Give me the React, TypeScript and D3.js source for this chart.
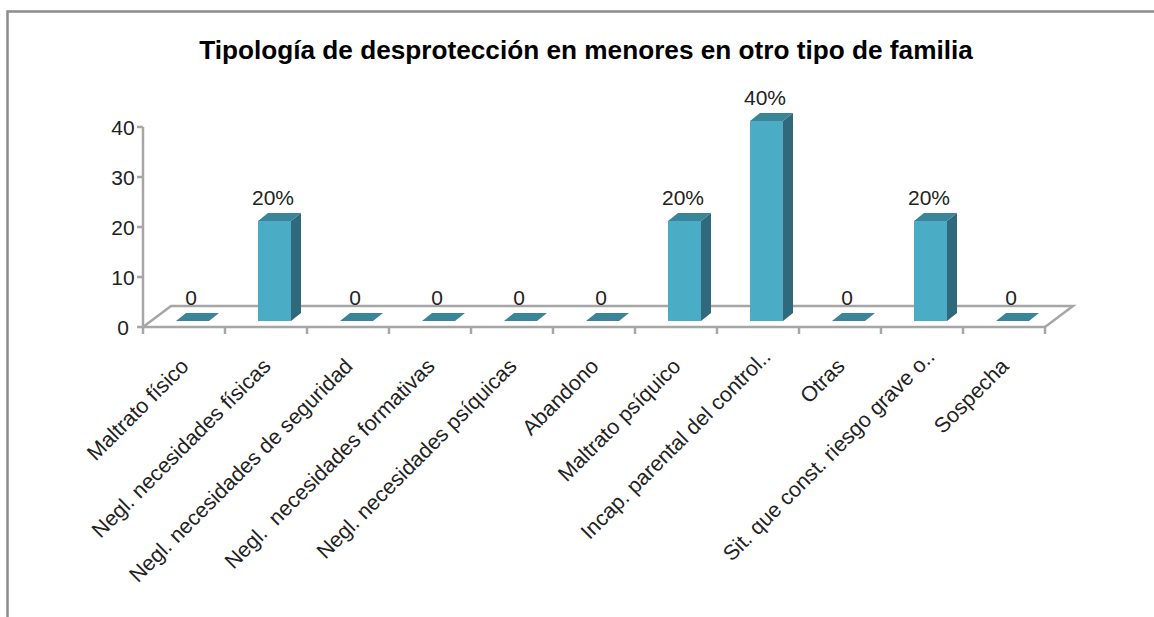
import React from "react";
import * as d3 from "d3";

const title = "Tipología de desprotección en menores en otro tipo de familia";
const categories = [
  "Maltrato físico",
  "Negl. necesidades físicas",
  "Negl. necesidades de seguridad",
  "Negl.  necesidades formativas",
  "Negl. necesidades psíquicas",
  "Abandono",
  "Maltrato psíquico",
  "Incap. parental del control..",
  "Otras",
  "Sit. que const. riesgo grave o..",
  "Sospecha",
];
const values = [0, 20, 0, 0, 0, 0, 20, 40, 0, 20, 0];
const valueLabels = ["0", "20%", "0", "0", "0", "0", "20%", "40%", "0", "20%", "0"];
const yTicks = [0, 10, 20, 30, 40];

const FONT = "'Liberation Sans', Arial, sans-serif";
const AXIS = "#a6a6a6";

const x = d3.scaleBand<number>().domain(d3.range(categories.length)).range([143, 1045]);
const y = d3.scaleLinear().domain([0, 40]).range([327, 127]);
const DX = 28;
const DY = 21;
const barLift = 6;
const barInset = 33;
const barW = 33;
const depthX = 10;
const depthY = 8;

export default function App() {
  const pts = (p: number[][]) => p.map((q) => q.join(",")).join(" ");
  return (
    <svg
      width={1154}
      height={617}
      style={{ position: "absolute", left: 0, top: 0, background: "#fff" }}
      fontFamily={FONT}
    >
      <path d="M7.5 617V11.5H1154" fill="none" stroke="#8c8c8c" strokeWidth={2.5} />
      <text x={586} y={59} textAnchor="middle" fontSize={26.2} fontWeight={700} fill="#000">
        {title}
      </text>

      <g fill="none" stroke={AXIS} strokeWidth={2.5}>
        <path d={`M143 ${y(40)}V327H1045`} />
        <path d={`M143 327L${143 + DX} ${327 - DY}H${1045 + DX}L1045 327`} />
        {yTicks.map((t) => (
          <path key={t} d={`M137 ${y(t)}H143`} />
        ))}
        {d3.range(categories.length + 1).map((i) => {
          const tx = 143 + i * x.step();
          return <path key={i} d={`M${tx} 327V334`} />;
        })}
      </g>

      {yTicks.map((t) => (
        <text key={t} x={123} y={y(t) + 8} textAnchor="middle" fontSize={21} fill="#222">
          {t}
        </text>
      ))}

      {values.map((v, i) => {
        const x0 = (x(i) as number) + barInset;
        const x1 = x0 + barW;
        const yb = y(0) - barLift;
        const yt = y(v) - barLift;
        return (
          <g key={i}>
            {v > 0 && <rect x={x0} y={yt} width={barW} height={yb - yt} fill="#4bacc6" />}
            {v > 0 && (
              <polygon
                points={pts([
                  [x1, yt],
                  [x1 + depthX, yt - depthY],
                  [x1 + depthX, yb - depthY],
                  [x1, yb],
                ])}
                fill="#31697c"
              />
            )}
            <polygon
              points={pts([
                [x0, yt],
                [x1, yt],
                [x1 + depthX, yt - depthY],
                [x0 + depthX, yt - depthY],
              ])}
              fill="#3a8599"
            />
            <text
              x={x0 + barW / 2 - 1.5}
              y={yt - 16}
              textAnchor="middle"
              fontSize={21}
              fill="#222"
            >
              {valueLabels[i]}
            </text>
          </g>
        );
      })}

      {categories.map((c, i) => {
        const cx = (x(i) as number) + x.bandwidth() / 2;
        const cut = c.endsWith("..");
        return (
          <text
            key={i}
            transform={`translate(${cx + (cut ? 14 : 6)},${cut ? 358 : 367.5}) rotate(-45)`}
            textAnchor="end"
            fontSize={21.4}
            fill="#222"
            style={{ whiteSpace: "pre" }}
          >
            {c}
          </text>
        );
      })}
    </svg>
  );
}
